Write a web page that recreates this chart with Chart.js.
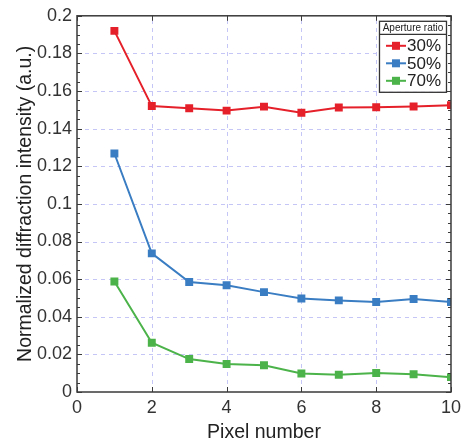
<!DOCTYPE html>
<html><head><meta charset="utf-8">
<script src="https://cdn.jsdelivr.net/npm/chart.js@4/dist/chart.umd.min.js"></script>
<style>html,body{margin:0;padding:0;background:#fff}#c{display:block}</style>
</head><body>
<canvas id="c" width="466" height="444"></canvas>
<script>
const pixelNumbers = [1,2,3,4,5,6,7,8,9,10];
const ratio30 = [0.192,0.152,0.1509,0.1496,0.1517,0.1485,0.1512,0.1514,0.1518,0.1525];
const ratio50 = [0.1268,0.0737,0.0585,0.0568,0.0531,0.0497,0.0487,0.0478,0.0494,0.0478];
const ratio70 = [0.0587,0.0262,0.0175,0.0149,0.0142,0.0098,0.0092,0.0101,0.0094,0.0079];
const seriesLabels = ['30%','50%','70%'];
const seriesColors = ['#e5202a','#3a7dc2','#4bb349'];
const legendTitle = 'Aperture ratio';
const xTitle = 'Pixel number';
const yTitle = 'Normalized diffraction intensity (a.u.)';

const FONT = '"Liberation Sans", Arial, sans-serif';
function mk(vals,i){
  return {label:seriesLabels[i],data:pixelNumbers.map((x,k)=>({x:x,y:vals[k]})),
    borderColor:seriesColors[i],backgroundColor:seriesColors[i],borderWidth:2,
    pointStyle:'rect',pointRadius:4.2,pointHoverRadius:4.2,tension:0};
}
const frame = {
  id:'frame',
  beforeDatasetsDraw(chart){
    const {ctx,chartArea:a,scales:{x,y}} = chart;
    ctx.save();
    ctx.strokeStyle='#c6c6f6';ctx.lineWidth=1;ctx.setLineDash([4,4]);
    x.ticks.forEach(t=>{
      const px=Math.round(x.getPixelForValue(t.value))+0.5;
      if(px<=a.left+1||px>=a.right-1) return;
      ctx.beginPath();ctx.moveTo(px,a.bottom);ctx.lineTo(px,a.top);ctx.stroke();
    });
    y.ticks.forEach(t=>{
      const py=Math.round(y.getPixelForValue(t.value))+0.5;
      if(py<=a.top+1||py>=a.bottom-1) return;
      ctx.beginPath();ctx.moveTo(a.left,py);ctx.lineTo(a.right,py);ctx.stroke();
    });
    ctx.restore();
  },
  afterDatasetsDraw(chart){
    const {ctx,chartArea:a,scales:{x,y}} = chart;
    ctx.save();
    ctx.strokeStyle='#3a3a3a';ctx.lineWidth=1.5;
    ctx.strokeRect(a.left,a.top,a.right-a.left,a.bottom-a.top);
    ctx.lineWidth=1;
    for(let v=0;v<=0.2001;v+=0.005){
      const py=Math.round(y.getPixelForValue(v))+0.5;
      const major=Math.abs(v/0.02-Math.round(v/0.02))<1e-6;
      const L=major?5:3;
      ctx.beginPath();ctx.moveTo(a.left,py);ctx.lineTo(a.left+L,py);
      ctx.moveTo(a.right,py);ctx.lineTo(a.right-L,py);ctx.stroke();
    }
    for(let v=0;v<=10;v+=2){
      const px=Math.round(x.getPixelForValue(v))+0.5;
      ctx.beginPath();ctx.moveTo(px,a.bottom);ctx.lineTo(px,a.bottom-5);
      ctx.moveTo(px,a.top);ctx.lineTo(px,a.top+5);ctx.stroke();
    }
    // legend
    const bx=a.right-72, by=a.top+5, bw=67, bh=71, th=13;
    ctx.fillStyle='#fff';ctx.fillRect(bx,by,bw,bh);
    ctx.strokeStyle='#333';ctx.lineWidth=1.3;
    ctx.strokeRect(bx+0.5,by+0.5,bw,bh);
    ctx.beginPath();ctx.moveTo(bx,by+th+0.5);ctx.lineTo(bx+bw,by+th+0.5);ctx.stroke();
    ctx.fillStyle='#222';ctx.font='10px '+FONT;ctx.textAlign='center';ctx.textBaseline='middle';
    ctx.fillText(legendTitle,bx+bw/2+0.5,by+th/2+1);
    chart.data.datasets.forEach((ds,i)=>{
      const cy=by+th+12+i*17.5;
      ctx.strokeStyle=ds.borderColor;ctx.lineWidth=2;
      ctx.beginPath();ctx.moveTo(bx+7,cy);ctx.lineTo(bx+27,cy);ctx.stroke();
      ctx.fillStyle=ds.borderColor;ctx.fillRect(bx+13,cy-4,8,8);
      ctx.fillStyle='#222';ctx.font='17px '+FONT;ctx.textAlign='left';
      ctx.fillText(ds.label,bx+28,cy+1);
    });
    ctx.restore();
  }
};
new Chart(document.getElementById('c'),{
  type:'line',
  data:{datasets:[mk(ratio30,0),mk(ratio50,1),mk(ratio70,2)]},
  options:{
    responsive:false,animation:false,
    layout:{padding:{top:15,right:12,left:0,bottom:0}},
    plugins:{legend:{display:false},tooltip:{enabled:false}},
    scales:{
      x:{type:'linear',min:0,max:10,
        ticks:{stepSize:2,color:'#333',font:{family:FONT,size:18},padding:5,maxRotation:0},
        grid:{display:false,drawTicks:false},
        border:{display:false},
        title:{display:true,text:xTitle,color:'#222',font:{family:FONT,size:19.5},padding:{top:0,bottom:0}},
        afterFit(s){s.height=52;}
      },
      y:{type:'linear',min:0,max:0.2,
        ticks:{stepSize:0.02,color:'#333',font:{family:FONT,size:18},padding:5,
          callback:v=>String(parseFloat(v.toFixed(3)))},
        grid:{display:false,drawTicks:false},
        border:{display:false},
        title:{display:true,text:yTitle,color:'#222',font:{family:FONT,size:19.5},padding:{top:14,bottom:0}},
        afterFit(s){s.width=77;}
      }
    }
  },
  plugins:[frame]
});
</script>
</body></html>
